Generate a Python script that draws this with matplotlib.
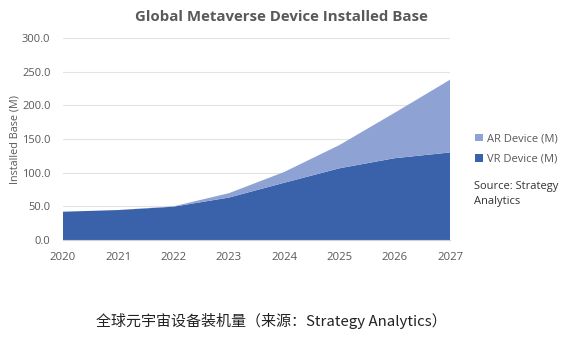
import matplotlib
matplotlib.use('Agg')
import matplotlib.pyplot as plt

years = [2020, 2021, 2022, 2023, 2024, 2025, 2026, 2027]
vr_device = [42.0, 44.5, 49.5, 63.0, 85.0, 106.5, 121.5, 130.0]
ar_device = [0.0, 0.0, 0.5, 6.5, 16.0, 34.5, 67.5, 108.0]
yticks = [0, 50, 100, 150, 200, 250, 300]

plt.rcParams['font.family'] = ['Open Sans', 'Noto Sans CJK SC', 'DejaVu Sans']
grey = '#595959'

fig = plt.figure(figsize=(5.88, 3.42), dpi=100)
ax = fig.add_axes([63 / 588, 1 - 240 / 342, 387 / 588, 202 / 342])

ax.stackplot(years, vr_device, ar_device, colors=['#3a62ab', '#8ea2d3'],
             labels=['VR Device (M)', 'AR Device (M)'], linewidth=0)
ax.set_xlim(2020, 2027)
ax.set_ylim(0, 300)
ax.set_yticks(yticks)
ax.set_yticklabels([f'{v:.1f}' for v in yticks])
ax.set_xticks(years)
ax.grid(axis='y', color='#e3e3e3', linewidth=0.8)
ax.set_axisbelow(True)
for s in ['top', 'right', 'left']:
    ax.spines[s].set_visible(False)
ax.spines['bottom'].set_color('#d0d0d0')
ax.tick_params(axis='y', length=0, labelsize=8.0, colors=grey, pad=9)
ax.tick_params(axis='x', length=0, labelsize=8.2, colors=grey, pad=9)
ax.set_ylabel('Installed Base (M)', fontsize=7.8, color=grey, labelpad=1)
fig.text(281 / 588, 1 - 17 / 342, 'Global Metaverse Device Installed Base', fontsize=10.8,
         fontweight='bold', color=grey, ha='center', va='center')

handles, labels = ax.get_legend_handles_labels()
ax.legend(handles[::-1], labels[::-1], loc='center left', bbox_to_anchor=(1.04, 0.45),
          frameon=False, fontsize=8, labelcolor=grey, handlelength=0.7,
          handleheight=0.7, handletextpad=0.3, labelspacing=0.85)
fig.text(474 / 588, 1 - 194 / 342, 'Source: Strategy\nAnalytics', fontsize=8,
         color='#333333', va='center', ha='left', linespacing=1.6)

fig.text(271 / 588, 1 - 321 / 342, '全球元宇宙设备装机量（来源：Strategy Analytics）', fontsize=10.8,
         color='#222222', ha='center', va='center',
         family=['Noto Sans CJK SC', 'DejaVu Sans'])

plt.savefig('out.png', dpi=100)
